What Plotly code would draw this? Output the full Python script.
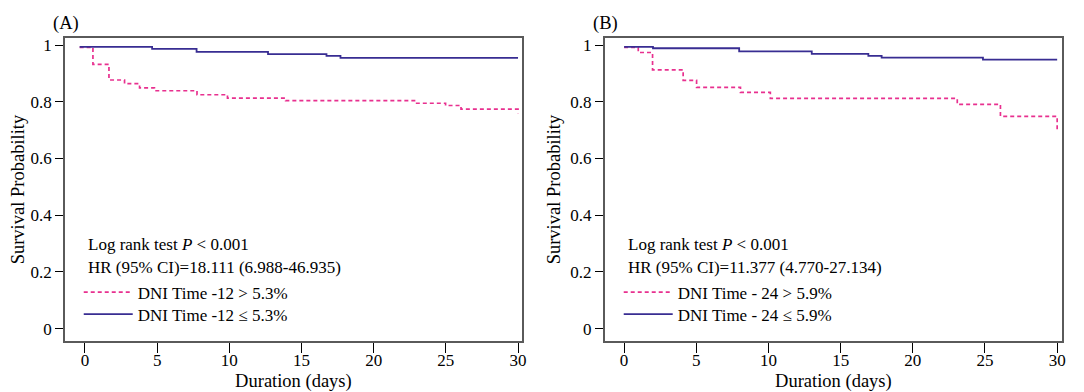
import plotly.graph_objects as go

# Panel A data
a_high_t = [-0.37, 0.55, 1.66, 2.74, 3.78, 4.81, 7.76, 9.87, 13.9, 22.91, 24.98, 26.05, 30.0]
a_high_s = [0.992, 0.932, 0.877, 0.864, 0.849, 0.839, 0.825, 0.813, 0.804, 0.795, 0.787, 0.774, 0.760]
a_low_t = [-0.37, 4.65, 7.73, 12.68, 16.73, 17.70, 30.0]
a_low_s = [0.994, 0.987, 0.976, 0.968, 0.962, 0.955, 0.955]

# Panel B data
b_high_t = [0.0, 0.98, 1.97, 4.09, 5.02, 8.06, 10.13, 23.08, 26.07, 30.0]
b_high_s = [0.992, 0.974, 0.913, 0.876, 0.851, 0.833, 0.812, 0.791, 0.749, 0.703]
b_low_t = [0.0, 2.0, 7.97, 13.0, 16.92, 17.84, 24.86, 30.0]
b_low_s = [0.994, 0.989, 0.978, 0.969, 0.962, 0.956, 0.949, 0.949]

x_ticks = [0, 5, 10, 15, 20, 25, 30]
y_ticks = [0, 0.2, 0.4, 0.6, 0.8, 1]
y_tick_text = ["0", "0.2", "0.4", "0.6", "0.8", "1"]

names_a = ["DNI Time -12 > 5.3%", "DNI Time -12 \u2264 5.3%"]
names_b = ["DNI Time - 24 > 5.9%", "DNI Time - 24 \u2264 5.9%"]
stats_a = ["Log rank test <i>P</i> < 0.001", "HR (95% CI)=18.111 (6.988-46.935)"]
stats_b = ["Log rank test <i>P</i> < 0.001", "HR (95% CI)=11.377 (4.770-27.134)"]

PINK = "#e8308f"
BLUE = "#382d92"
FONT = "Liberation Serif, Times New Roman, Times, serif"

# page offset of the plot div (default body margin)
OFF = 8
PW, PH = 1084, 392          # page size
W, H = PW - OFF, PH - OFF   # figure size


def px(xp):
    return (xp - OFF) / W


def py(yp):
    return (H - (yp - OFF)) / H


fig = go.Figure()
fig.add_trace(go.Scatter(x=a_high_t, y=a_high_s, mode="lines", line_shape="hv", name=names_a[0],
                         line=dict(color=PINK, width=1.7, dash="4px,3px"), xaxis="x", yaxis="y", legend="legend"))
fig.add_trace(go.Scatter(x=a_low_t, y=a_low_s, mode="lines", line_shape="hv", name=names_a[1],
                         line=dict(color=BLUE, width=1.8), xaxis="x", yaxis="y", legend="legend2"))
fig.add_trace(go.Scatter(x=b_high_t, y=b_high_s, mode="lines", line_shape="hv", name=names_b[0],
                         line=dict(color=PINK, width=1.7, dash="4px,3px"), xaxis="x2", yaxis="y2", legend="legend3"))
fig.add_trace(go.Scatter(x=b_low_t, y=b_low_s, mode="lines", line_shape="hv", name=names_b[1],
                         line=dict(color=BLUE, width=1.8), xaxis="x2", yaxis="y2", legend="legend4"))

dom_y = [py(340.5), py(36.5)]


def xaxis(dom, rng, anchor):
    return dict(domain=dom, range=rng, anchor=anchor, tickvals=x_ticks, ticks="outside", ticklen=10,
                tickcolor="black", tickwidth=1, showline=True, linecolor="#5a5a5a", linewidth=1.5, mirror=True,
                showgrid=False, zeroline=False, tickfont=dict(family=FONT, size=17, color="black"),
                ticklabelstandoff=-7,
                title=dict(text="Duration (days)", font=dict(family=FONT, size=18.5, color="black"), standoff=6))


def yaxis(rng, anchor):
    return dict(domain=dom_y, range=rng, anchor=anchor, tickvals=y_ticks, ticktext=y_tick_text, ticks="outside",
                ticklen=8, tickcolor="black", tickwidth=1, showline=True, linecolor="#5a5a5a", linewidth=1.5,
                mirror=True, showgrid=False, zeroline=False, tickfont=dict(family=FONT, size=17, color="black"),
                title=dict(text="Survival Probability", font=dict(family=FONT, size=18.5, color="black"), standoff=5))


annotations = []
for x0, stats, label, lx in [(86, stats_a, "(A)", 66), (628, stats_b, "(B)", 608)]:
    for i, s in enumerate(stats):
        annotations.append(dict(x=px(x0), y=py(244 + 23 * i), xref="paper", yref="paper", text=s,
                                showarrow=False, xanchor="left", yanchor="middle",
                                font=dict(family=FONT, size=17, color="black")))
    annotations.append(dict(x=px(lx), y=py(22), xref="paper", yref="paper", text=label, showarrow=False,
                            xanchor="center", yanchor="middle", font=dict(family=FONT, size=18.5, color="black")))


def legend(x0, ytop):
    return dict(x=px(x0), y=py(ytop), xanchor="left", yanchor="top", bgcolor="rgba(0,0,0,0)",
                borderwidth=0, font=dict(family=FONT, size=17, color="black"), itemwidth=49,
                tracegroupgap=0, traceorder="normal")


fig.update_layout(
    width=W, height=H, margin=dict(l=0, r=0, t=0, b=0),
    paper_bgcolor="white", plot_bgcolor="white",
    xaxis=xaxis([px(65), px(524)], [-1.40, 30.28], "y"),
    yaxis=yaxis([-0.0428, 1.0239], "x"),
    xaxis2=xaxis([px(607), px(1066)], [-1.34, 30.34], "y2"),
    yaxis2=yaxis([-0.0428, 1.0239], "x2"),
    annotations=annotations,
    legend=legend(79, 274),
    legend2=legend(79, 296),
    legend3=legend(621, 274),
    legend4=legend(621, 296),
    showlegend=True,
)

fig.write_html("out.html")
